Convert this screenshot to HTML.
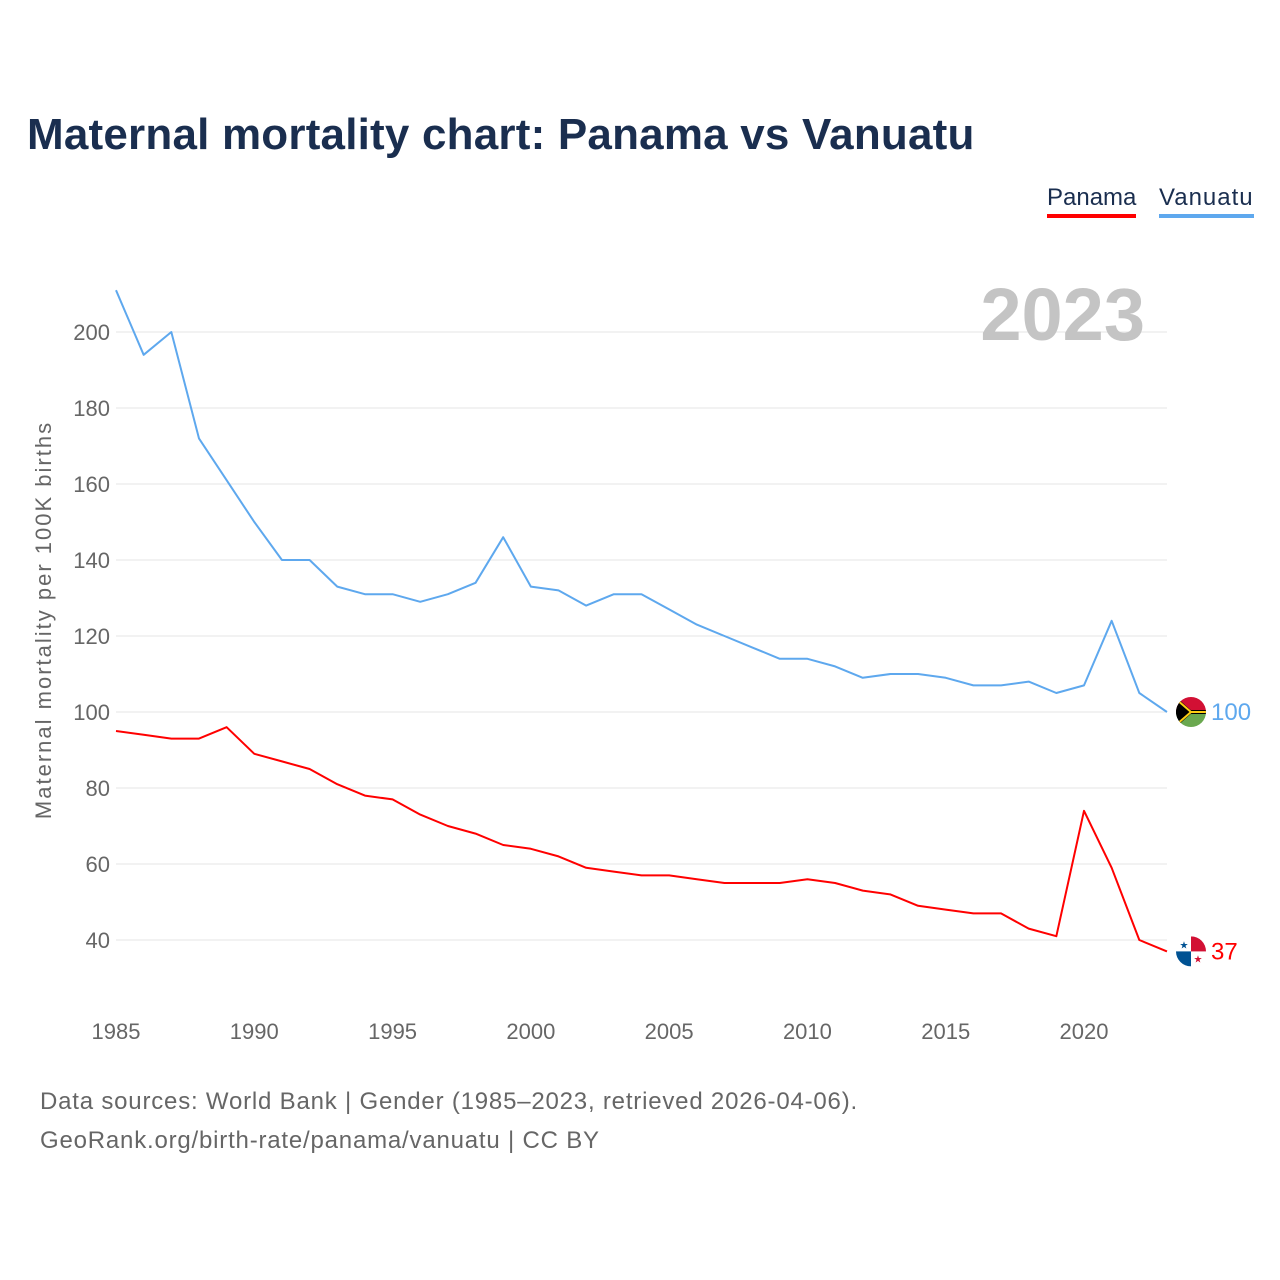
<!DOCTYPE html>
<html><head><meta charset="utf-8"><style>
body{margin:0;background:#fff;font-family:"Liberation Sans",sans-serif;}
#wrap{position:relative;width:1280px;height:1280px;overflow:hidden;}
h1{position:absolute;left:27px;top:110px;margin:0;font-size:44px;font-weight:bold;color:#1a2e4f;letter-spacing:0.2px;}
.leg{position:absolute;top:184px;font-size:24px;color:#1a2e4f;padding-bottom:2px;}
.src{position:absolute;left:40px;font-size:24px;color:#666;letter-spacing:0.8px;}
</style></head><body>
<div id="wrap">
<h1>Maternal mortality chart: Panama vs Vanuatu</h1>
<div class="leg" style="left:1047px;border-bottom:4px solid #ff0000">Panama</div>
<div class="leg" style="left:1159px;border-bottom:4px solid #5ea8ee;letter-spacing:1px">Vanuatu</div>
<svg id="chart" width="1280" height="1280" style="position:absolute;left:0;top:0"></svg>
<div class="src" style="top:1088px">Data sources: World Bank | Gender (1985–2023, retrieved 2026-04-06).</div>
<div class="src" style="top:1127px">GeoRank.org/birth-rate/panama/vanuatu | CC BY</div>
</div>
<script>
const years=[];for(let y=1985;y<=2023;y++)years.push(y);
const vanuatu=[211,194,200,172,161,150,140,140,133,131,131,129,131,134,146,133,132,128,131,131,127,123,120,117,114,114,112,109,110,110,109,107,107,108,105,107,124,105,100];
const panama=[95,94,93,93,96,89,87,85,81,78,77,73,70,68,65,64,62,59,58,57,57,56,55,55,55,56,55,53,52,49,48,47,47,43,41,74,59,40,37];
const yTicks=[40,60,80,100,120,140,160,180,200];
const xTicks=[1985,1990,1995,2000,2005,2010,2015,2020];
const NS="http://www.w3.org/2000/svg";
const svg=document.getElementById('chart');
const xs=y=>116+(y-1985)*968/35;
const ys=v=>332+(200-v)*3.8;
function mk(t,a){const e=document.createElementNS(NS,t);for(const k in a)e.setAttribute(k,a[k]);svg.appendChild(e);return e;}
yTicks.forEach(v=>{
 const l=mk('line',{x1:116,x2:1167,y1:ys(v),y2:ys(v),stroke:'#e6e6e6','stroke-width':1});
 
 
 const t=mk('text',{x:110,y:ys(v)+8,'text-anchor':'end','font-size':22,fill:'#666','font-family':'Liberation Sans, sans-serif'});
 t.textContent=v;
 
 
});
xTicks.forEach(y=>{
 const t=mk('text',{x:xs(y),y:1039,'text-anchor':'middle','font-size':22,fill:'#666','font-family':'Liberation Sans, sans-serif'});
 t.textContent=y;
 
 
});
const yt=mk('text',{transform:'translate(51,620) rotate(-90)','text-anchor':'middle','font-size':22,'letter-spacing':'2px',fill:'#666','font-family':'Liberation Sans, sans-serif'});
yt.textContent='Maternal mortality per 100K births';


const yr=mk('text',{x:1145,y:340,'text-anchor':'end','font-size':74,'font-weight':'bold',fill:'#c4c4c4','font-family':'Liberation Sans, sans-serif'});
yr.textContent='2023';


function series(vals,col,name){
 const p=mk('polyline',{points:vals.map((v,i)=>xs(years[i])+','+ys(v)).join(' '),fill:'none',stroke:col,'stroke-width':2,'stroke-linejoin':'round'});
 
 
 const last=vals[vals.length-1];
 const t=mk('text',{x:1211,y:ys(last)+8,'font-size':24,fill:col,'font-family':'Liberation Sans, sans-serif'});
 t.textContent=last;
 
 
}
series(vanuatu,'#5ea8ee','vanuatu');
series(panama,'#ff0000','panama');
const vy=ys(100),py=ys(37),fx=1191;
let g=mk('g',{});


g.innerHTML=`<clipPath id="cv"><circle cx="${fx}" cy="${vy}" r="15"/></clipPath><g clip-path="url(#cv)"><rect x="${fx-15}" y="${vy-15}" width="30" height="15" fill="#d21034"/><rect x="${fx-15}" y="${vy}" width="30" height="15" fill="#6aa84f"/><rect x="${fx-15}" y="${vy-2}" width="30" height="4" fill="#000"/><polygon points="${fx-15},${vy-15} ${fx+2},${vy} ${fx-15},${vy+15}" fill="#000"/><line x1="${fx-15}" y1="${vy-13}" x2="${fx}" y2="${vy}" stroke="#fdce12" stroke-width="2"/><line x1="${fx-15}" y1="${vy+13}" x2="${fx}" y2="${vy}" stroke="#fdce12" stroke-width="2"/><line x1="${fx}" y1="${vy}" x2="${fx+15}" y2="${vy}" stroke="#fdce12" stroke-width="2"/></g>`;
g=mk('g',{});


g.innerHTML=`<clipPath id="cp"><circle cx="${fx}" cy="${py}" r="15"/></clipPath><g clip-path="url(#cp)"><rect x="${fx-15}" y="${py-15}" width="30" height="30" fill="#fff"/><rect x="${fx}" y="${py-15}" width="15" height="15" fill="#d21034"/><rect x="${fx-15}" y="${py}" width="15" height="15" fill="#005293"/><text x="${fx-7}" y="${py-3}" font-size="10" fill="#005293" text-anchor="middle">★</text><text x="${fx+7}" y="${py+11}" font-size="10" fill="#d21034" text-anchor="middle">★</text></g>`;
</script>
</body></html>
